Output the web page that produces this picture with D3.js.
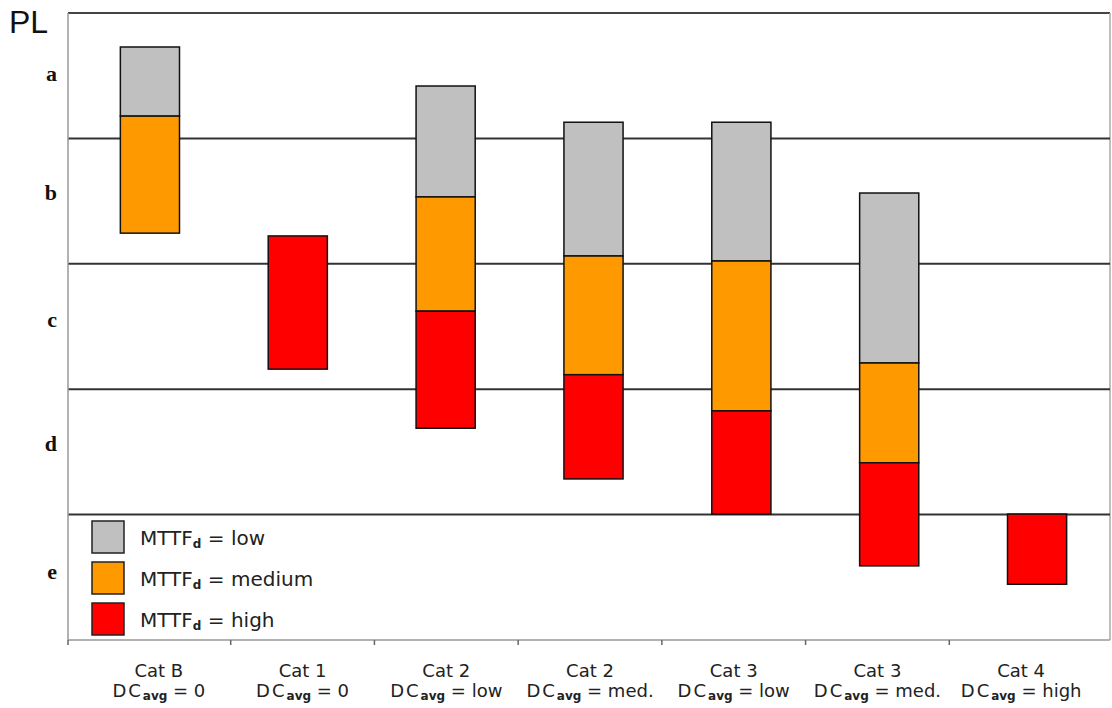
<!DOCTYPE html>
<html>
<head>
<meta charset="utf-8">
<script src="https://cdn.jsdelivr.net/npm/d3@7"></script>
<style>
  html, body { margin: 0; padding: 0; background: #fff; }
  svg { display: block; }
</style>
</head>
<body>
<svg id="chart" width="1112" height="708"></svg>
<script>
// ---- data ----
const categories = ["Cat B", "Cat 1", "Cat 2", "Cat 2", "Cat 3", "Cat 3", "Cat 4"];
const dcLevels   = ["0", "0", "low", "med.", "low", "med.", "high"];
// each segment: [bottom, top] on PL value scale, null = absent
const lowRange    = [[94.0, 106.4], null, [79.5, 99.4], [68.9, 92.9], [68.0, 92.9], [49.7, 80.2], null];
const mediumRange = [[73.0, 94.0], null, [59.0, 79.5], [47.6, 68.9], [41.1, 68.0], [31.8, 49.7], null];
const highRange   = [null, [48.6, 72.5], [38.0, 59.0], [28.9, 47.6], [22.6, 41.1], [13.3, 31.8], [10.0, 22.6]];
const plLevels    = ["a", "b", "c", "d", "e"];
const plBoundaries = [22.5, 45, 67.5, 90];
const yMax = 112.5;
const seriesNames = ["low", "medium", "high"];
const seriesColors = ["#c0c0c0", "#ff9900", "#ff0000"];

// ---- layout ----
const svg = d3.select("#chart");
const L = 68, R = 1110, T = 13, B = 640;

// bar placement scale
const x = d3.scaleBand().domain(d3.range(categories.length)).range([76, 1111])
  .paddingInner(0.6).paddingOuter(0.3);
// axis (labels / ticks) scale
const xAxis = d3.scaleBand().domain(d3.range(categories.length)).range([87, 1093]);
const y = d3.scaleLinear().domain([0, yMax]).range([B, T]);

// plot frame
svg.append("line").attr("x1", L).attr("x2", R).attr("y1", y(yMax)).attr("y2", y(yMax))
  .attr("stroke", "#444").attr("stroke-width", 2);
svg.append("line").attr("x1", R).attr("x2", R).attr("y1", T).attr("y2", B)
  .attr("stroke", "#aaa").attr("stroke-width", 1.5);

// grid (PL boundaries)
svg.append("g").selectAll("line").data(plBoundaries).join("line")
  .attr("x1", L).attr("x2", R)
  .attr("y1", d => y(d)).attr("y2", d => y(d))
  .attr("stroke", "#333").attr("stroke-width", 2);

// left axis line
svg.append("line").attr("x1", L).attr("x2", L).attr("y1", T).attr("y2", B)
  .attr("stroke", "#999").attr("stroke-width", 1.5);

// bottom axis with ticks at category boundaries
const boundaries = [L, ...d3.range(1, categories.length).map(i => xAxis(i))];
svg.append("line").attr("x1", L).attr("x2", R).attr("y1", B).attr("y2", B)
  .attr("stroke", "#999").attr("stroke-width", 1.5);
svg.append("g").selectAll("line").data(boundaries).join("line")
  .attr("x1", d => d).attr("x2", d => d).attr("y1", B).attr("y2", B + 5)
  .attr("stroke", "#666").attr("stroke-width", 1.5);

// PL letters
const bandEdges = [0, ...plBoundaries, yMax];
const letterShift = [0, -7, -5, -6, -4];
svg.append("g").selectAll("text").data(plLevels).join("text")
  .attr("x", 57)
  .attr("y", (d, i) => y((bandEdges[4 - i] + bandEdges[5 - i]) / 2) + letterShift[i])
  .attr("dy", "0.25em")
  .attr("text-anchor", "end")
  .attr("font-family", "Liberation Serif, Times New Roman, serif")
  .attr("font-weight", "bold")
  .attr("font-size", 22)
  .attr("fill", "#111")
  .text(d => d);

// PL title
svg.append("text").attr("x", 9).attr("y", 33)
  .attr("font-family", "Liberation Sans, Arial, sans-serif")
  .attr("font-size", 32).attr("fill", "#111").text("PL");

// bars
const ranges = [lowRange, mediumRange, highRange];
ranges.forEach((arr, si) => {
  svg.append("g").selectAll("rect")
    .data(arr.map((r, i) => ({ r, i })).filter(d => d.r))
    .join("rect")
    .attr("x", d => x(d.i))
    .attr("width", x.bandwidth())
    .attr("y", d => y(d.r[1]))
    .attr("height", d => y(d.r[0]) - y(d.r[1]))
    .attr("fill", seriesColors[si])
    .attr("stroke", "#111")
    .attr("stroke-width", 1.5);
});

// category labels
const labels = svg.append("g")
  .attr("font-family", "DejaVu Sans, Verdana, sans-serif")
  .attr("fill", "#222");
categories.forEach((c, i) => {
  const cx = xAxis(i) + xAxis.bandwidth() / 2;
  labels.append("text").attr("x", cx).attr("y", 677)
    .attr("text-anchor", "middle").attr("font-size", 18).text(c);
  const t = labels.append("text").attr("x", cx).attr("y", 697)
    .attr("text-anchor", "middle").attr("font-size", 18);
  t.append("tspan").attr("letter-spacing", 2).text("DC");
  t.append("tspan").attr("font-size", 12).attr("font-weight", "bold").attr("dy", 3).text("avg");
  t.append("tspan").attr("dy", -3).text(" = " + dcLevels[i]);
});

// legend
const leg = svg.append("g").attr("transform", "translate(92,521)");
seriesNames.forEach((n, i) => {
  const g = leg.append("g").attr("transform", `translate(0,${i * 41})`);
  g.append("rect").attr("width", 32).attr("height", 32)
    .attr("fill", seriesColors[i]).attr("stroke", "#222").attr("stroke-width", 1.5);
  const t = g.append("text").attr("x", 48).attr("y", 24)
    .attr("font-family", "DejaVu Sans, Verdana, sans-serif")
    .attr("font-size", 20).attr("fill", "#222");
  t.append("tspan").text("MTTF");
  t.append("tspan").attr("font-size", 12).attr("font-weight", "bold").attr("dy", 3).text("d");
  t.append("tspan").attr("dy", -3).text(" = " + n);
});
</script>
</body>
</html>
